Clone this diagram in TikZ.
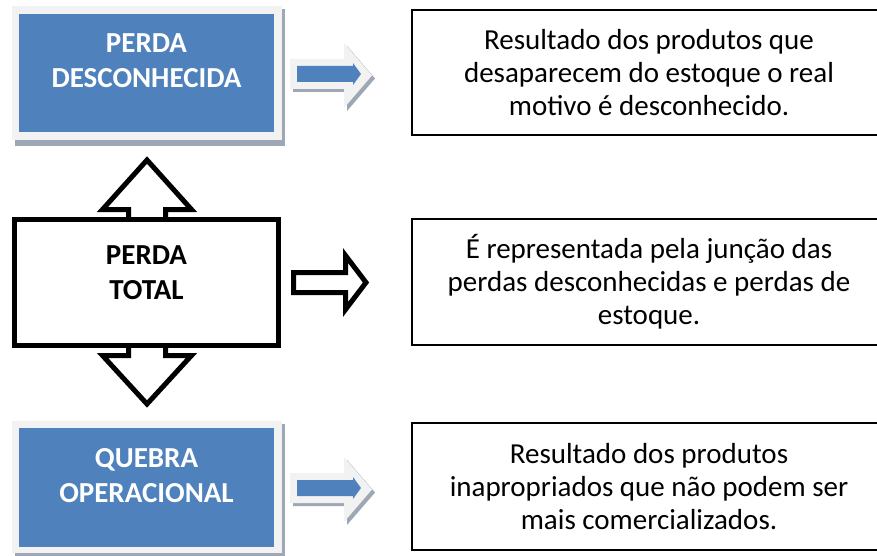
\documentclass[tikz,border=0pt]{standalone}
\usepackage{fontspec}
\setmainfont{Carlito}
\usetikzlibrary{backgrounds}

\definecolor{boxblue}{HTML}{4F81BD}
\definecolor{framegray}{HTML}{F2F2F2}
\definecolor{shadowgray}{HTML}{9EA7B5}

\tikzset{
  bluebox/.style={fill=boxblue, inner sep=0pt, outer sep=0pt},
  bluetext/.style={text=white, align=center, font=\fontsize{29}{35}\selectfont\bfseries},
  totaltext/.style={text=black, align=center, font=\fontsize{29}{35}\selectfont\bfseries},
  descbox/.style={draw, line width=1.5pt, align=center, inner sep=0pt,
    minimum width=474pt, font=\fontsize{29}{33}\selectfont},
  hollow/.style={draw, fill=white, line width=5pt, miter limit=20}
}

\begin{document}
\begin{tikzpicture}[x=1pt, y=-1pt]
  \useasboundingbox (0,0) rectangle (877,556);

  % left column
  \node[bluebox, minimum width=255pt, minimum height=118pt] at (146.5,73) (pd) {};
  \node[bluetext] at ([yshift=12pt]pd.center) (pdtext) {PERDA\\DESCONHECIDA};

  \node[draw, fill=white, line width=5pt, minimum width=264pt, minimum height=126pt] at (146.5,282.5) (pt) {};
  \node[totaltext] at ([yshift=10pt]pt.center) (pttext) {PERDA\\TOTAL};

  \node[bluebox, minimum width=255pt, minimum height=119pt] at (146.5,487.5) (qo) {};
  \node[bluetext] at ([yshift=12pt]qo.center) (qotext) {QUEBRA\\OPERACIONAL};

  \begin{scope}[on background layer]
    \fill[shadowgray] ([shift={(-4,14)}]pd.south west) rectangle ([shift={(11,-5)}]pd.north east);
    \fill[framegray] ([shift={(-7,8)}]pd.south west) rectangle ([shift={(8,-8)}]pd.north east);
    \fill[shadowgray] ([shift={(-4,9)}]qo.south west) rectangle ([shift={(11,-4)}]qo.north east);
    \fill[framegray] ([shift={(-7,6)}]qo.south west) rectangle ([shift={(8,-7)}]qo.north east);

    % arrows out of the total box
    \draw[hollow] (128.5,225) -- (128.5,209.5) -- (102.5,209.5) -- (147,160)
      -- (191.5,209.5) -- (165.5,209.5) -- (165.5,225) -- cycle;
    \draw[hollow] (128.5,340) -- (128.5,355.5) -- (102.5,355.5) -- (147,404)
      -- (191.5,355.5) -- (165.5,355.5) -- (165.5,340) -- cycle;
  \end{scope}

  % right column
  \node[descbox, minimum height=125pt] at (649,72.5) (d1)
    {Resultado dos produtos que\\desaparecem do estoque o real\\motivo é desconhecido.};
  \node[descbox, minimum height=126pt] at (649,282) (d2)
    {É representada pela junção das\\perdas desconhecidas e perdas de\\estoque.};
  \node[descbox, minimum height=127pt] at (649,486.5) (d3)
    {Resultado dos produtos\\inapropriados que não podem ser\\mais comercializados.};

  % arrows between the columns
  \foreach \dy in {0,414} {
    \begin{scope}[shift={(0,\dy)}]
      \fill[shadowgray] (293,62) -- (347,62) -- (347,46) -- (375,78.5) -- (347,111)
        -- (347,92) -- (293,92) -- cycle;
      \fill[framegray] (290,59) -- (344,59) -- (344,43) -- (372,75.5) -- (344,108)
        -- (344,89) -- (290,89) -- cycle;
      \fill[boxblue] (297,66) -- (353,66) -- (353,63) -- (361,74) -- (353,85)
        -- (353,82) -- (297,82) -- cycle;
    \end{scope}
  }

  \draw[hollow] (293.5,272.5) -- (345.5,272.5) -- (345.5,255.5) -- (366,282.5)
    -- (345.5,309.5) -- (345.5,292.5) -- (293.5,292.5) -- cycle;
\end{tikzpicture}
\end{document}
